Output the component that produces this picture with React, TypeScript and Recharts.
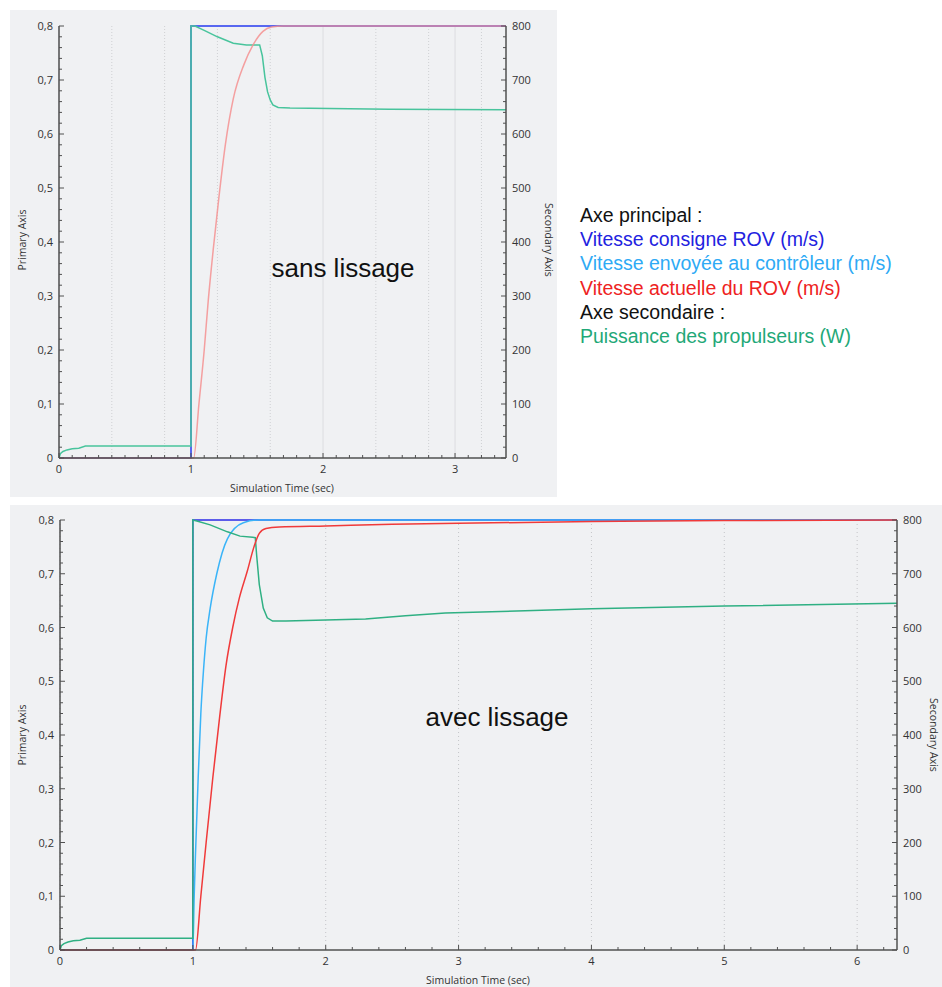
import React from "react";
import { LineChart, Line, XAxis, YAxis, CartesianGrid } from "recharts";

// --- sans lissage (haut) ---
const topConsigneT = [0, 1.0, 1.0, 3.39];
const topConsigneV = [0, 0, 0.8, 0.8];
const topEnvoyeeT = [0, 1.0, 1.0, 3.39];
const topEnvoyeeV = [0, 0, 0.8, 0.8];
const topActuelleT = [0, 1.02, 1.06, 1.1, 1.13, 1.17, 1.21, 1.26, 1.32, 1.4, 1.47, 1.545, 1.61, 1.7, 3.39];
const topActuelleV = [0, 0, 0.1, 0.2, 0.29, 0.39, 0.48, 0.58, 0.665, 0.728, 0.765, 0.79, 0.798, 0.8, 0.8];
const topPuissanceT = [0, 0.01, 0.03, 0.06, 0.1, 0.15, 0.2, 1.0, 1.0, 1.03, 1.1, 1.2, 1.32, 1.42, 1.52, 1.54, 1.56, 1.58, 1.6, 1.62, 1.66, 1.75, 2.5, 3.39];
const topPuissanceV = [0, 8, 12, 15, 17, 18, 22, 22, 800, 800, 792, 780, 768, 765, 765, 745, 705, 678, 663, 654, 649, 648, 646, 645];

// --- avec lissage (bas) ---
const botConsigneT = [0, 1.0, 1.0, 6.3];
const botConsigneV = [0, 0, 0.8, 0.8];
const botEnvoyeeT = [0, 1.0, 1.01, 1.02, 1.04, 1.06, 1.08, 1.1, 1.13, 1.18, 1.26, 1.38, 1.5, 6.3];
const botEnvoyeeV = [0, 0, 0.1, 0.18, 0.32, 0.44, 0.52, 0.58, 0.635, 0.7, 0.765, 0.795, 0.8, 0.8];
const botActuelleT = [0, 1.02, 1.06, 1.1, 1.15, 1.2, 1.25, 1.3, 1.35, 1.41, 1.46, 1.5, 1.55, 1.65, 2.0, 2.5, 3.0, 4.0, 5.0, 6.3];
const botActuelleV = [0, 0, 0.1, 0.2, 0.32, 0.43, 0.53, 0.6, 0.655, 0.705, 0.75, 0.775, 0.784, 0.787, 0.789, 0.792, 0.794, 0.797, 0.799, 0.8];
const botPuissanceT = [0, 0.01, 0.03, 0.06, 0.1, 0.15, 0.2, 1.0, 1.0, 1.03, 1.13, 1.26, 1.355, 1.45, 1.47, 1.48, 1.5, 1.53, 1.56, 1.6, 1.7, 2.0, 2.3, 2.6, 2.9, 3.5, 4.0, 5.0, 6.3];
const botPuissanceV = [0, 8, 12, 15, 17, 18, 22, 22, 800, 798, 791, 778, 770, 768, 767, 735, 680, 636, 618, 612, 612, 614, 616, 622, 627, 631, 635, 640, 645];

// axes / ticks
const primaryMajor = [0, 0.1, 0.2, 0.3, 0.4, 0.5, 0.6, 0.7, 0.8];
const secondaryMajor = [0, 100, 200, 300, 400, 500, 600, 700, 800];
const topXMajor = [0, 1, 2, 3];
const botXMajor = [0, 1, 2, 3, 4, 5, 6];
const topXDotted = [0.4, 0.8, 1.2, 1.6, 2.4, 2.8, 3.2];

const legendLines = [
  { text: "Axe principal :", color: "#111111" },
  { text: "Vitesse consigne ROV (m/s)", color: "#2222e0" },
  { text: "Vitesse envoyée au contrôleur (m/s)", color: "#2eaaf5" },
  { text: "Vitesse actuelle du ROV (m/s)", color: "#ee2222" },
  { text: "Axe secondaire :", color: "#111111" },
  { text: "Puissance des propulseurs (W)", color: "#1fa878" },
];

const pts = (ts: number[], vs: number[]) => ts.map((t, i) => ({ t, v: vs[i] }));
const steps = (from: number, to: number, step: number) => {
  const out: number[] = [];
  for (let i = 0; from + i * step <= to + 1e-9; i++) out.push(+(from + i * step).toFixed(4));
  return out;
};
const isIn = (list: number[], v: number) => list.some((m) => Math.abs(m - v) < 1e-6);

const AX = "#505050";
const TICK_FONT = { fontFamily: "'Open Sans', 'Noto Sans', sans-serif", fontSize: 11, fill: "#333" };
const ARIAL = "'Liberation Sans', Arial, sans-serif";

function XTick(props: any) {
  const { x, y, payload, majors } = props;
  const major = isIn(majors, payload.value);
  return (
    <g>
      <line x1={x} x2={x} y1={y} y2={y - (major ? 5 : 3)} stroke={AX} />
      {major && (
        <text x={x} y={y + 15} textAnchor="middle" {...TICK_FONT}>
          {String(payload.value)}
        </text>
      )}
    </g>
  );
}

function LeftTick(props: any) {
  const { x, y, payload } = props;
  const major = isIn(primaryMajor, payload.value);
  const label = payload.value === 0 ? "0" : payload.value.toFixed(1).replace(".", ",");
  return (
    <g>
      <line x1={x} x2={x + (major ? 5 : 3)} y1={y} y2={y} stroke={AX} />
      {major && (
        <text x={x - 6} y={y + 4} textAnchor="end" {...TICK_FONT}>
          {label}
        </text>
      )}
    </g>
  );
}

function RightTick(props: any) {
  const { x, y, payload } = props;
  const major = isIn(secondaryMajor, payload.value);
  return (
    <g>
      <line x1={x} x2={x - (major ? 5 : 3)} y1={y} y2={y} stroke={AX} />
      {major && (
        <text x={x + 6} y={y + 4} textAnchor="start" {...TICK_FONT}>
          {String(payload.value)}
        </text>
      )}
    </g>
  );
}

const titleFont = "'Open Sans', 'Noto Sans', sans-serif";

function RotText({ x, y, text, angle }: { x: number; y: number; text: string; angle: number }) {
  return (
    <div
      style={{
        position: "absolute", left: x, top: y, transform: `translate(-50%, -50%) rotate(${angle}deg)`,
        whiteSpace: "nowrap", fontFamily: titleFont, fontSize: 10.5, color: "#333",
      }}
    >
      {text}
    </div>
  );
}

function Panel(props: {
  left: number; top: number; width: number; height: number; xMax: number;
  xMinorStep: number; xMajor: number[]; dotted: boolean; faded: boolean;
  consigne: any[]; envoyee: any[]; actuelle: any[]; puissance: any[];
}) {
  const { width, height, xMax, xMajor, dotted, faded } = props;
  const xTicks = steps(0, xMax, props.xMinorStep);
  const yTicks = steps(0, 0.8, 0.02);
  const y2Ticks = steps(0, 800, 20);
  const c = faded
    ? { consigne: "#4a4af5", envoyee: "#60b4dc", actuelle: "#f59090", puissance: "#48c49c" }
    : { consigne: "#2b2be8", envoyee: "#3ab4f8", actuelle: "#f03a3a", puissance: "#2fb083" };
  return (
    <div style={{ position: "absolute", left: props.left, top: props.top, width, height, background: "#f0f1f3" }}>
      <LineChart width={width} height={height} margin={{ top: faded ? 16 : 15, right: 0, bottom: 0, left: 0 }}>
        {dotted ? (
          <CartesianGrid stroke="#c4c5c8" strokeDasharray="1 3" horizontalValues={primaryMajor} verticalValues={xMajor} />
        ) : (
          <CartesianGrid stroke="#dcdde0" horizontalValues={primaryMajor} verticalValues={xMajor} />
        )}
        {!dotted && (
          <CartesianGrid stroke="#cfd0d3" strokeDasharray="1 2" horizontal={false} verticalValues={topXDotted} />
        )}
        <XAxis
          dataKey="t" type="number" domain={[0, xMax]} allowDataOverflow ticks={xTicks} interval={0}
          height={faded ? 39 : 37} tickSize={0} tickMargin={0} tickLine={false}
          axisLine={{ stroke: AX, strokeWidth: 1.5 }} tick={(p: any) => <XTick {...p} majors={xMajor} />}
        />
        <YAxis
          yAxisId="left" type="number" domain={[0, 0.8]} ticks={yTicks} interval={0} width={faded ? 49 : 50}
          tickSize={0} tickMargin={0} tickLine={false} axisLine={{ stroke: AX, strokeWidth: 1.5 }}
          tick={(p: any) => <LeftTick {...p} />}
        />
        <YAxis
          yAxisId="right" orientation="right" type="number" domain={[0, 800]} ticks={y2Ticks} interval={0}
          width={faded ? 51 : 45} tickSize={0} tickMargin={0} tickLine={false}
          axisLine={{ stroke: AX, strokeWidth: 1.5 }} tick={(p: any) => <RightTick {...p} />}
        />
        {faded ? (
          <>
            <Line yAxisId="left" data={props.envoyee} dataKey="v" stroke={c.envoyee} strokeWidth={1.5} dot={false} isAnimationActive={false} />
            <Line yAxisId="left" data={props.consigne} dataKey="v" stroke={c.consigne} strokeWidth={1.5} dot={false} isAnimationActive={false} />
          </>
        ) : (
          <>
            <Line yAxisId="left" data={props.consigne} dataKey="v" stroke={c.consigne} strokeWidth={1.5} dot={false} isAnimationActive={false} />
            <Line yAxisId="left" type="monotone" data={props.envoyee} dataKey="v" stroke={c.envoyee} strokeWidth={1.5} dot={false} isAnimationActive={false} />
          </>
        )}
        <Line yAxisId="right" data={props.puissance} dataKey="v" stroke={c.puissance} strokeWidth={1.5} dot={false} isAnimationActive={false} />
        <Line yAxisId="left" type="monotone" data={props.actuelle} dataKey="v" stroke={c.actuelle} strokeWidth={1.5} strokeOpacity={faded ? 0.85 : 1} dot={false} isAnimationActive={false} />
      </LineChart>
    </div>
  );
}

export default function App() {
  return (
    <div style={{ position: "absolute", left: 0, top: 0, width: 942, height: 987, overflow: "hidden", background: "#fff" }}>
      <Panel
        left={10} top={10} width={547} height={487} xMax={3.386} xMinorStep={0.1} xMajor={topXMajor}
        dotted={false} faded={true}
        consigne={pts(topConsigneT, topConsigneV)} envoyee={pts(topEnvoyeeT, topEnvoyeeV)}
        actuelle={pts(topActuelleT, topActuelleV)} puissance={pts(topPuissanceT, topPuissanceV)}
      />
      <Panel
        left={10} top={505} width={932} height={482} xMax={6.3} xMinorStep={0.2} xMajor={botXMajor}
        dotted={true} faded={false}
        consigne={pts(botConsigneT, botConsigneV)} envoyee={pts(botEnvoyeeT, botEnvoyeeV)}
        actuelle={pts(botActuelleT, botActuelleV)} puissance={pts(botPuissanceT, botPuissanceV)}
      />

      <RotText x={22} y={240} text="Primary Axis" angle={-90} />
      <RotText x={549} y={240} text="Secondary Axis" angle={90} />
      <RotText x={282} y={488} text="Simulation Time (sec)" angle={0} />
      <RotText x={22} y={735} text="Primary Axis" angle={-90} />
      <RotText x={934} y={735} text="Secondary Axis" angle={90} />
      <RotText x={478} y={980} text="Simulation Time (sec)" angle={0} />

      <div style={{ position: "absolute", left: 343, top: 268, transform: "translate(-50%, -50%)", fontFamily: ARIAL, fontSize: 26, color: "#111", whiteSpace: "nowrap" }}>
        sans lissage
      </div>
      <div style={{ position: "absolute", left: 497, top: 717, transform: "translate(-50%, -50%)", fontFamily: ARIAL, fontSize: 26, color: "#111", whiteSpace: "nowrap" }}>
        avec lissage
      </div>

      <div style={{ position: "absolute", left: 580, top: 203, fontFamily: ARIAL, fontSize: 19.5, lineHeight: "24.2px", whiteSpace: "nowrap" }}>
        {legendLines.map((l) => (
          <div key={l.text} style={{ color: l.color }}>{l.text}</div>
        ))}
      </div>
    </div>
  );
}
